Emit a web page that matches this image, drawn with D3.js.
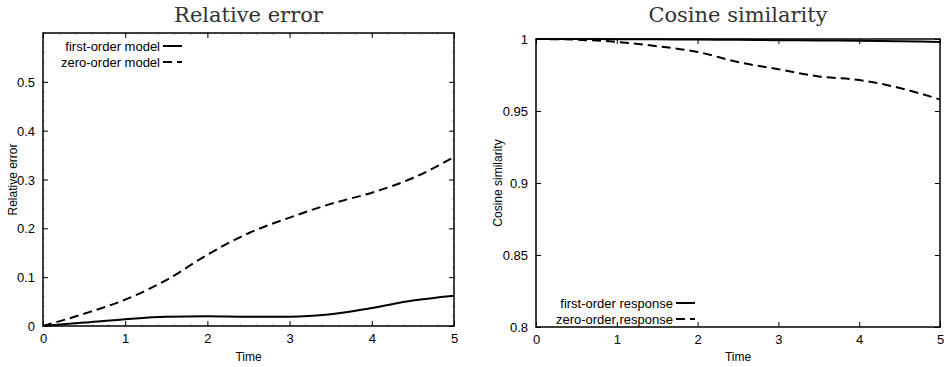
<!DOCTYPE html>
<html>
<head>
<meta charset="utf-8">
<script src="https://cdn.jsdelivr.net/npm/d3@7"></script>
<style>
  body { margin: 0; background: #fff; }
  text { font-family: "Liberation Sans", Arial, sans-serif; fill: #000; }
  .title { font-family: "DejaVu Serif", "Liberation Serif", serif; font-size: 21px; fill: #333; }
</style>
</head>
<body>
<svg id="chart" width="944" height="367"></svg>
<script>
// time samples shared by all curves
var times = [0, 0.5, 1, 1.5, 2, 2.5, 3, 3.5, 4, 4.5, 5];

// relative error (left panel)
var errFirst = [0, 0.007, 0.014, 0.019, 0.02, 0.019, 0.019, 0.024, 0.037, 0.052, 0.062];
var errZero = [0, 0.025, 0.054, 0.094, 0.146, 0.19, 0.222, 0.25, 0.273, 0.303, 0.346];

// cosine similarity (right panel)
var cosFirst = [1, 1, 0.9999, 0.9998, 0.9996, 0.9994, 0.9992, 0.999, 0.9988, 0.9984, 0.998];
var cosZero = [1, 0.9995, 0.998, 0.995, 0.991, 0.984, 0.979, 0.974, 0.9715, 0.966, 0.958];

var xTicks = [0, 1, 2, 3, 4, 5];
var errTicks = [0, 0.1, 0.2, 0.3, 0.4, 0.5];
var cosTicks = [0.8, 0.85, 0.9, 0.95, 1];

var svg = d3.select("#chart");

function panel(opt) {
  var x = d3.scaleLinear().domain([0, 5]).range([opt.left, opt.right]);
  var y = d3.scaleLinear().domain(opt.yDomain).range([opt.bottom, opt.top]);
  var g = svg.append("g");

  // minor ticks (light gray, inward)
  if (opt.minor) {
    var mx = d3.range(0, 5.001, 0.2);
    var my = d3.range(opt.yDomain[0], opt.yDomain[1] + 1e-9, opt.minorY);
    mx.forEach(function(v) {
      g.append("line").attr("x1", x(v)).attr("x2", x(v)).attr("y1", opt.bottom).attr("y2", opt.bottom - 2)
        .attr("stroke", "#bbb");
      g.append("line").attr("x1", x(v)).attr("x2", x(v)).attr("y1", opt.top).attr("y2", opt.top + 2)
        .attr("stroke", "#bbb");
    });
    my.forEach(function(v) {
      g.append("line").attr("y1", y(v)).attr("y2", y(v)).attr("x1", opt.left).attr("x2", opt.left + 2)
        .attr("stroke", "#bbb");
      g.append("line").attr("y1", y(v)).attr("y2", y(v)).attr("x1", opt.right).attr("x2", opt.right - 2)
        .attr("stroke", "#bbb");
    });
  }

  // axes with inward ticks
  var bottom = g.append("g").attr("transform", "translate(0," + opt.bottom + ")")
    .call(d3.axisBottom(x).tickValues(xTicks).tickSizeInner(-5).tickSizeOuter(0).tickPadding(8).tickFormat(d3.format("d")));
  var top = g.append("g").attr("transform", "translate(0," + opt.top + ")")
    .call(d3.axisTop(x).tickValues(xTicks).tickSizeInner(-5).tickSizeOuter(0).tickFormat(""));
  var left = g.append("g").attr("transform", "translate(" + opt.left + ",0)")
    .call(d3.axisLeft(y).tickValues(opt.yTicks).tickSizeInner(-5).tickSizeOuter(0).tickPadding(8).tickFormat(opt.fmt));
  var right = g.append("g").attr("transform", "translate(" + opt.right + ",0)")
    .call(d3.axisRight(y).tickValues(opt.yTicks).tickSizeInner(-5).tickSizeOuter(0).tickFormat(""));
  [bottom, top, left, right].forEach(function(a) {
    a.select(".domain").remove();
    a.selectAll("line").attr("stroke", "#000");
    a.selectAll("text").attr("font-size", 13).attr("font-family", "Liberation Sans, Arial, sans-serif");
  });
  left.selectAll("text").attr("dy", "0.35em");

  g.append("rect").attr("x", opt.left).attr("y", opt.top)
    .attr("width", opt.right - opt.left).attr("height", opt.bottom - opt.top)
    .attr("fill", "none").attr("stroke", "#000").attr("stroke-width", 1.5);

  var line = d3.line().x(function(d, i) { return x(times[i]); }).y(function(d) { return y(d); })
    .curve(d3.curveMonotoneX);
  g.append("path").attr("d", line(opt.s1)).attr("fill", "none").attr("stroke", "#000").attr("stroke-width", 2);
  g.append("path").attr("d", line(opt.s2)).attr("fill", "none").attr("stroke", "#000").attr("stroke-width", 2)
    .attr("stroke-dasharray", "9,5");

  // titles and labels
  g.append("text").attr("class", "title").attr("x", (opt.left + opt.right) / 2).attr("y", opt.titleY)
    .attr("text-anchor", "middle").text(opt.title);
  g.append("text").attr("x", (opt.left + opt.right) / 2).attr("y", 361).attr("text-anchor", "middle")
    .attr("font-size", 12).text("Time");
  g.append("text").attr("transform", "translate(" + opt.yLabelX + "," + (opt.top + opt.bottom) / 2 + ") rotate(-90)")
    .attr("text-anchor", "middle").attr("font-size", 12).text(opt.yLabel);

  // legend
  opt.legend.forEach(function(name, i) {
    var ly = opt.legendY + i * 16;
    g.append("text").attr("x", opt.legendX).attr("y", ly).attr("dy", "0.35em").attr("text-anchor", "end")
      .attr("font-size", 13).text(name);
    g.append("line").attr("x1", opt.legendX + 3).attr("x2", opt.legendX + 22).attr("y1", ly).attr("y2", ly)
      .attr("stroke", "#000").attr("stroke-width", 2).attr("stroke-dasharray", i ? "9,5" : null);
  });
}

panel({
  left: 43, right: 454, top: 33, bottom: 326,
  yDomain: [0, 0.6], yTicks: errTicks, fmt: d3.format("~g"),
  minor: true, minorY: 0.02,
  s1: errFirst, s2: errZero,
  title: "Relative error", titleY: 22, yLabel: "Relative error", yLabelX: 17,
  legend: ["first-order model", "zero-order model"], legendX: 160, legendY: 46
});

panel({
  left: 536, right: 940, top: 39, bottom: 327,
  yDomain: [0.8, 1], yTicks: cosTicks, fmt: d3.format("~g"),
  minor: false,
  s1: cosFirst, s2: cosZero,
  title: "Cosine similarity", titleY: 22, yLabel: "Cosine similarity", yLabelX: 502,
  legend: ["first-order response", "zero-order response"], legendX: 673, legendY: 303
});
</script>
</body>
</html>
